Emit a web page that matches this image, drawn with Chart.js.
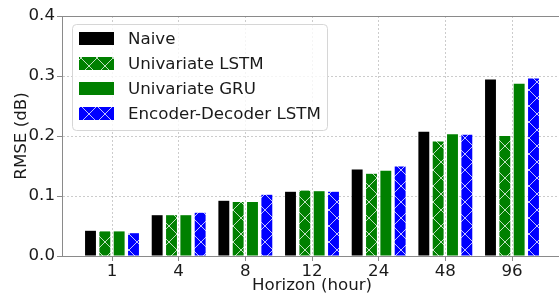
<!DOCTYPE html>
<html>
<head>
<meta charset="utf-8">
<script src="https://cdn.jsdelivr.net/npm/chart.js@4.4.1/dist/chart.umd.min.js"></script>
<style>
html, body { margin: 0; padding: 0; background: #fff; overflow: hidden; }
#rmseChart { display: block; }
</style>
</head>
<body>
<canvas id="rmseChart" width="565" height="297"></canvas>
<script>
// values
const horizons = ['1', '4', '8', '12', '24', '48', '96'];
const naive = [0.042, 0.068, 0.092, 0.107, 0.144, 0.207, 0.294];
const uniLstm = [0.041, 0.068, 0.090, 0.109, 0.137, 0.191, 0.200];
const uniGru = [0.041, 0.068, 0.090, 0.108, 0.142, 0.203, 0.287];
const encDecLstm = [0.038, 0.072, 0.102, 0.107, 0.149, 0.202, 0.296];
const yTicks = [0, 0.1, 0.2, 0.3, 0.4];

const axisGray = '#8a8a8a';
const gridGray = 'rgba(176, 176, 176, 0.65)';

Chart.defaults.font.family = 'DejaVu Sans';
Chart.defaults.font.size = 16.67;
Chart.defaults.color = '#1a1a1a';

// 'x' hatch like matplotlib
function hatch(color) {
    const c = document.createElement('canvas');
    c.width = 16;
    c.height = 16;
    const g = c.getContext('2d');
    g.fillStyle = color;
    g.fillRect(0, 0, 16, 16);
    g.strokeStyle = 'rgba(255, 255, 255, 0.75)';
    g.lineWidth = 1;
    g.beginPath();
    g.moveTo(-1, -1); g.lineTo(17, 17);
    g.moveTo(-1, 17); g.lineTo(17, -1);
    g.stroke();
    const p = g.createPattern(c, 'repeat');
    p.setTransform(new DOMMatrix().translate(1, 10));
    return p;
}

const toPoints = arr => arr.map((v, i) => ({ x: i, y: v }));

const frameTop = {
    id: 'frameTop',
    beforeDatasetsDraw(chart) {
        const { ctx, chartArea } = chart;
        ctx.save();
        ctx.strokeStyle = axisGray;
        ctx.lineWidth = 1;
        ctx.beginPath();
        ctx.moveTo(chartArea.left, chartArea.top + 0.5);
        ctx.lineTo(chartArea.right, chartArea.top + 0.5);
        ctx.stroke();
        ctx.restore();
    }
};

// legend inside the axes, upper left, with a rounded frame
const legendBox = {
    id: 'legendBox',
    afterDraw(chart) {
        const { ctx, chartArea } = chart;
        const x0 = chartArea.left + 10, y0 = chartArea.top + 8;
        const w = 255, h = 106;
        ctx.save();
        ctx.beginPath();
        ctx.roundRect(x0 + 0.5, y0 + 0.5, w, h, 4);
        ctx.fillStyle = 'rgba(255, 255, 255, 0.8)';
        ctx.fill();
        ctx.strokeStyle = '#d6d6d6';
        ctx.lineWidth = 1;
        ctx.stroke();
        ctx.textBaseline = 'middle';
        ctx.font = '16.67px "DejaVu Sans"';
        chart.data.datasets.forEach((ds, i) => {
            const cy = y0 + 14.5 + i * 25;
            ctx.fillStyle = ds.backgroundColor;
            ctx.fillRect(x0 + 7, cy - 6.5, 35, 13);
            ctx.fillStyle = '#1a1a1a';
            ctx.fillText(ds.label, x0 + 56, cy + 1);
        });
        ctx.restore();
    }
};

new Chart(document.getElementById('rmseChart'), {
    type: 'bar',
    data: {
        datasets: [
            { label: 'Naive', data: toPoints(naive), backgroundColor: '#000000' },
            { label: 'Univariate LSTM', data: toPoints(uniLstm), backgroundColor: hatch('#008000') },
            { label: 'Univariate GRU', data: toPoints(uniGru), backgroundColor: '#008000' },
            { label: 'Encoder-Decoder LSTM', data: toPoints(encDecLstm), backgroundColor: hatch('#0000ff') }
        ]
    },
    options: {
        responsive: false,
        animation: false,
        categoryPercentage: 0.86,
        barPercentage: 0.76,
        layout: { padding: { top: 16, right: 3, left: 0, bottom: 0 } },
        plugins: {
            legend: { display: false },
            tooltip: { enabled: false }
        },
        scales: {
            x: {
                type: 'linear',
                offset: false,
                min: -0.75,
                max: 6.75,
                afterBuildTicks: axis => { axis.ticks = horizons.map((h, i) => ({ value: i })); },
                afterFit: axis => { axis.height = 41; },
                ticks: {
                    callback: v => horizons[v],
                    maxRotation: 0,
                    autoSkip: false,
                    padding: 1
                },
                grid: { offset: false, color: gridGray, tickColor: axisGray, tickLength: 5 },
                border: { color: axisGray, dash: [2, 2] },
                title: { display: true, text: 'Horizon (hour)', padding: { top: 0, bottom: 1 } }
            },
            y: {
                min: 0,
                max: 0.4,
                afterBuildTicks: axis => { axis.ticks = yTicks.map(v => ({ value: v })); },
                afterFit: axis => { axis.width = 62; },
                ticks: { callback: v => v.toFixed(1), padding: 2 },
                grid: { color: gridGray, tickColor: axisGray, tickLength: 5 },
                border: { color: axisGray, dash: [2, 2] },
                title: { display: true, text: 'RMSE (dB)', padding: { top: 12, bottom: 0 } }
            }
        }
    },
    plugins: [frameTop, legendBox]
});
</script>
</body>
</html>
